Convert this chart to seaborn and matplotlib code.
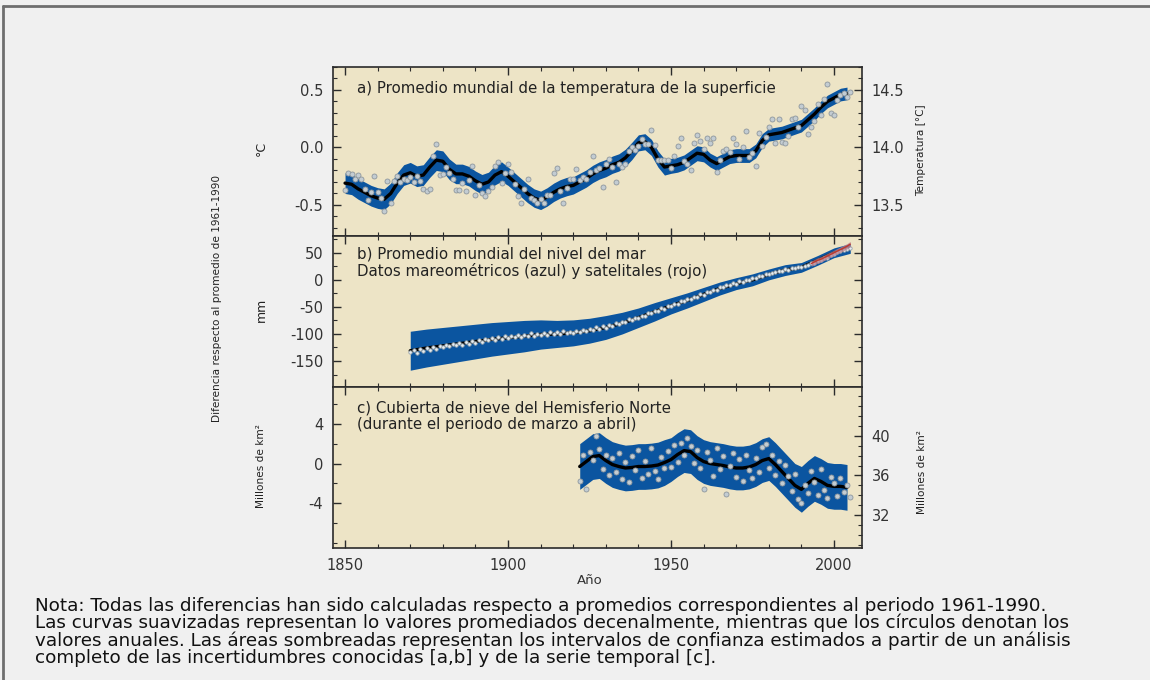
import numpy as np
import pandas as pd
import matplotlib
matplotlib.use("Agg")
import matplotlib.pyplot as plt
from matplotlib.ticker import MultipleLocator
from matplotlib.lines import Line2D
import seaborn as sns

# a) global mean surface temperature anomaly (deg C), annual values 1850-2005
temp_start = 1850
temp_annual = [
    -0.37, -0.22, -0.23, -0.27, -0.24, -0.27, -0.36, -0.46, -0.39, -0.25,
    -0.39, -0.44, -0.55, -0.29, -0.48, -0.29, -0.25, -0.30, -0.27, -0.28,
    -0.26, -0.30, -0.25, -0.29, -0.36, -0.38, -0.36, -0.07, 0.03, -0.24,
    -0.23, -0.17, -0.22, -0.27, -0.37, -0.37, -0.31, -0.38, -0.28, -0.16,
    -0.41, -0.33, -0.40, -0.42, -0.38, -0.34, -0.16, -0.13, -0.31, -0.22,
    -0.14, -0.21, -0.32, -0.42, -0.48, -0.36, -0.27, -0.44, -0.46, -0.48,
    -0.45, -0.48, -0.41, -0.41, -0.22, -0.18, -0.38, -0.48, -0.35, -0.27,
    -0.27, -0.19, -0.28, -0.26, -0.27, -0.21, -0.07, -0.20, -0.18, -0.34,
    -0.14, -0.10, -0.17, -0.30, -0.14, -0.17, -0.14, -0.03, 0.00, -0.02,
    0.01, 0.07, 0.03, 0.03, 0.15, 0.02, -0.11, -0.11, -0.11, -0.11,
    -0.18, -0.07, 0.01, 0.08, -0.12, -0.14, -0.20, 0.04, 0.11, 0.06,
    -0.01, 0.08, 0.04, 0.08, -0.21, -0.11, -0.03, -0.01, -0.04, 0.08,
    0.03, -0.10, 0.00, 0.14, -0.08, -0.05, -0.16, 0.13, 0.01, 0.09,
    0.18, 0.25, 0.04, 0.25, 0.05, 0.04, 0.10, 0.25, 0.26, 0.18,
    0.36, 0.33, 0.12, 0.18, 0.23, 0.38, 0.28, 0.42, 0.55, 0.30,
    0.28, 0.41, 0.46, 0.47, 0.44, 0.48,
]
# decadal smoothed curve, every 2 years 1850-2004
temp_smooth = [
    -0.31, -0.32, -0.36, -0.39, -0.42, -0.44, -0.45, -0.40, -0.31, -0.24,
    -0.22, -0.25, -0.24, -0.17, -0.11, -0.12, -0.19, -0.23, -0.23, -0.25,
    -0.29, -0.32, -0.30, -0.24, -0.21, -0.25, -0.30, -0.35, -0.40, -0.44,
    -0.46, -0.43, -0.39, -0.36, -0.34, -0.33, -0.30, -0.27, -0.23, -0.20,
    -0.18, -0.15, -0.13, -0.09, -0.03, 0.04, 0.05, 0.00, -0.10, -0.17,
    -0.16, -0.15, -0.13, -0.09, -0.05, -0.06, -0.11, -0.14, -0.11, -0.08,
    -0.07, -0.07, -0.07, -0.03, 0.06, 0.11, 0.12, 0.13, 0.15, 0.17,
    0.19, 0.24, 0.29, 0.35, 0.40, 0.43, 0.46, 0.47,
]
temp_hw = [
    0.09, 0.09, 0.09, 0.09, 0.09, 0.09, 0.09, 0.09, 0.09, 0.09,
    0.09, 0.09, 0.09, 0.09, 0.09, 0.09, 0.09, 0.085, 0.085, 0.085,
    0.085, 0.085, 0.085, 0.085, 0.085, 0.08, 0.08, 0.08, 0.08, 0.08,
    0.08, 0.08, 0.08, 0.08, 0.08, 0.075, 0.075, 0.075, 0.075, 0.075,
    0.075, 0.075, 0.075, 0.075, 0.075, 0.07, 0.07, 0.07, 0.07, 0.07,
    0.065, 0.065, 0.065, 0.065, 0.065, 0.065, 0.06, 0.06, 0.06, 0.06,
    0.06, 0.06, 0.06, 0.06, 0.06, 0.055, 0.055, 0.055, 0.055, 0.055,
    0.055, 0.055, 0.055, 0.055, 0.055, 0.055, 0.055, 0.055,
]

# b) global mean sea level (mm), tide gauge annual values 1870-2005
sea_start = 1870
sea_annual = [
    -133, -130, -135, -128, -131, -126, -129, -124, -127, -122,
    -124, -120, -123, -118, -121, -117, -120, -115, -118, -113,
    -116, -112, -114, -109, -112, -108, -111, -106, -109, -104,
    -108, -104, -106, -101, -105, -102, -104, -99, -103, -100,
    -102, -98, -101, -97, -100, -96, -100, -95, -99, -96,
    -99, -94, -97, -92, -95, -90, -93, -88, -90, -86,
    -89, -84, -86, -80, -82, -77, -78, -73, -74, -70,
    -71, -66, -67, -61, -62, -57, -57, -52, -53, -48,
    -49, -44, -45, -40, -40, -36, -36, -31, -31, -27,
    -28, -23, -23, -18, -18, -14, -14, -9, -10, -6,
    -7, -3, -4, 0, 0, 3, 3, 7, 7, 11,
    10, 13, 14, 17, 17, 20, 19, 22, 21, 23,
    23, 26, 27, 31, 32, 35, 37, 40, 41, 45,
    48, 51, 53, 56, 57, 59,
]
# smoothed curve and band half width, every 5 years 1870-2005
sea_smooth = [
    -131, -126, -122, -118, -114, -110, -107, -104, -101, -100,
    -98, -94, -88, -80, -70, -59, -48, -38, -27, -16,
    -7, 0, 10, 18, 23, 36, 50, 58,
]
sea_hw = [
    36, 35, 34, 33, 32, 31, 30, 29, 27, 25,
    24, 23, 22, 20, 18, 17, 15, 14, 13, 12,
    11, 11, 10, 10, 9, 9, 9, 9,
]
# satellite altimetry (red), 1993-2005
sat_start = 1993
sat_annual = [30, 33, 36, 38, 41, 44, 47, 50, 53, 56, 59, 62, 66]

# c) Northern Hemisphere snow cover, March-April (million km2), 1922-2005
snow_start = 1922
snow_annual = [
    -1.8, 0.9, -2.6, 1.2, 0.4, 2.8, 1.5, -0.6, 0.9, -1.2,
    0.6, -0.9, 1.1, -1.6, 0.2, -1.9, 0.8, -0.7, 1.4, -1.5,
    0.3, -1.1, 1.6, -0.8, -1.6, 0.7, -0.4, 1.3, -0.3, 1.9,
    0.2, 2.1, 0.9, 2.6, 1.8, 0.1, 1.4, -0.5, -2.6, 1.2,
    0.4, -1.3, 1.6, -0.6, 0.8, -3.1, -0.2, 1.1, -1.4, 0.5,
    -1.8, 0.9, -0.7, -1.5, 0.6, -0.9, 1.7, 2.0, -0.4, 0.9,
    -1.2, 0.3, -2.0, -0.1, -1.3, -2.8, -1.1, -3.6, -4.0, -2.2,
    -3.0, -0.8, -1.9, -3.2, -0.6, -2.7, -3.5, -1.4, -2.0, -3.3,
    -1.5, -2.9, -2.2, -3.4,
]
# smoothed curve and band half width, every 2 years 1922-2004
snow_smooth = [
    -0.3, 0.2, 0.7, 0.8, 0.3, -0.1, -0.3, -0.45, -0.4, -0.3,
    -0.3, -0.25, -0.15, 0.1, 0.4, 0.9, 1.3, 1.2, 0.6, 0.2,
    0.0, -0.1, -0.2, -0.35, -0.45, -0.45, -0.35, -0.1, 0.3, 0.5,
    -0.1, -0.8, -1.5, -2.2, -2.6, -2.0, -1.5, -1.8, -2.2, -2.3,
    -2.3, -2.4,
]
snow_hw = [
    2.3, 2.3, 2.3, 2.3, 2.3, 2.3, 2.3, 2.3, 2.3, 2.3,
    2.3, 2.3, 2.3, 2.3, 2.2, 2.2, 2.2, 2.2, 2.2, 2.2,
    2.2, 2.2, 2.2, 2.2, 2.2, 2.2, 2.2, 2.2, 2.2, 2.2,
    2.2, 2.2, 2.2, 2.2, 2.3, 2.3, 2.3, 2.3, 2.3, 2.3,
    2.3, 2.3,
]

note_lines = [
    "Nota: Todas las diferencias han sido calculadas respecto a promedios correspondientes al periodo 1961-1990.",
    "Las curvas suavizadas representan lo valores promediados decenalmente, mientras que los círculos denotan los",
    "valores anuales. Las áreas sombreadas representan los intervalos de confianza estimados a partir de un análisis",
    "completo de las incertidumbres conocidas [a,b] y de la serie temporal [c].",
]

# ---------------------------------------------------------------------------
sns.set_theme(style="ticks")
plt.rcParams["font.family"] = ["DejaVu Sans"]
plt.rcParams["axes.unicode_minus"] = False

BG = "#f0f0f0"
PANEL = "#ede4c6"
BLUE = "#0b55a0"
TXT = "#333333"

fig = plt.figure(figsize=(11.5, 6.8), dpi=100, facecolor=BG)
# frame lines at top and left of the picture
fig.lines.append(Line2D([3 / 1150, 1], [1 - 6 / 680, 1 - 6 / 680],
                        transform=fig.transFigure, color="#6e6e6e", lw=2))
fig.lines.append(Line2D([3 / 1150, 3 / 1150], [0, 1 - 6 / 680],
                        transform=fig.transFigure, color="#6e6e6e", lw=2))


def fpos(top, bottom):
    return [333 / 1150, 1 - bottom / 680, 529 / 1150, (bottom - top) / 680]


ax_a = fig.add_axes(fpos(67, 236))
ax_b = fig.add_axes(fpos(236, 387))
ax_c = fig.add_axes(fpos(387, 548))


def draw_panel(ax, start, annual, s_start, s_step, smooth, hw, dot_face, dot_edge, dot_size):
    yrs = np.arange(start, start + len(annual))
    syrs = np.arange(s_start, s_start + s_step * len(smooth), s_step)
    sm = np.array(smooth)
    w = np.array(hw)
    ax.fill_between(syrs, sm - w, sm + w, color=BLUE, lw=0, zorder=2)
    sns.lineplot(x=syrs, y=sm, ax=ax, color="black", lw=2.4, zorder=3)
    df = pd.DataFrame({"year": yrs, "value": annual})
    sns.scatterplot(data=df, x="year", y="value", ax=ax, s=dot_size,
                    color=dot_face, edgecolor=dot_edge, linewidth=0.6, zorder=4)


draw_panel(ax_a, temp_start, temp_annual, 1850, 2, temp_smooth, temp_hw,
           "#c3ccd2", "#8e979d", 13)
draw_panel(ax_b, sea_start, sea_annual, 1870, 5, sea_smooth, sea_hw,
           "#e8eef2", "#9aa6ae", 6)
draw_panel(ax_c, snow_start, snow_annual, 1922, 2, snow_smooth, snow_hw,
           "#c3ccd2", "#8e979d", 13)

# satellite series in panel b
sat_yrs = np.arange(sat_start, sat_start + len(sat_annual))
sat = np.array(sat_annual)
ax_b.fill_between(sat_yrs, sat - 5, sat + 5, color="#b9808f", alpha=0.75, lw=0, zorder=5)
sns.lineplot(x=sat_yrs, y=sat, ax=ax_b, color="#c0392b", lw=1.0, zorder=6)

for ax in (ax_a, ax_b, ax_c):
    ax.set_facecolor(PANEL)
    ax.set_xlim(1846.3, 2008.6)
    ax.xaxis.set_major_locator(MultipleLocator(50))
    ax.xaxis.set_minor_locator(MultipleLocator(10))
    ax.set_xlabel("")
    ax.set_ylabel("")
    for sp in ax.spines.values():
        sp.set_visible(True)
        sp.set_color("#2b2b2b")
        sp.set_linewidth(1.2)
    ax.tick_params(which="both", direction="in", top=True, bottom=True,
                   colors="#2b2b2b", labelcolor=TXT, labelsize=10.5)
    ax.tick_params(which="major", length=6, width=1, pad=7)
    ax.tick_params(which="minor", length=3, width=0.8)

ax_a.tick_params(labelbottom=False)
ax_b.tick_params(labelbottom=False, right=True, which="both")

ax_a.set_ylim(-0.77, 0.70)
ax_a.set_yticks([-0.5, 0.0, 0.5])
ax_a.set_yticklabels(["-0.5", "0.0", "0.5"])
ax_a.yaxis.set_minor_locator(MultipleLocator(0.1))

ax_b.set_ylim(-198, 81)
ax_b.set_yticks([-150, -100, -50, 0, 50])
ax_b.yaxis.set_minor_locator(MultipleLocator(25))

ax_c.set_ylim(-8.5, 7.7)
ax_c.set_yticks([-4, 0, 4])
ax_c.yaxis.set_minor_locator(MultipleLocator(2))
ax_c.set_xticks([1850, 1900, 1950, 2000])

# right-hand scales
ra = ax_a.twinx()
ra.set_ylim(-0.77 + 14.0, 0.70 + 14.0)
ra.set_yticks([13.5, 14.0, 14.5])
ra.set_yticklabels(["13.5", "14.0", "14.5"])
ra.yaxis.set_minor_locator(MultipleLocator(0.1))

rc = ax_c.twinx()
rc.set_ylim(-8.5 + 37.2, 7.7 + 37.2)
rc.set_yticks([32, 36, 40])
rc.yaxis.set_minor_locator(MultipleLocator(1))

for r in (ra, rc):
    r.grid(False)
    for sp in r.spines.values():
        sp.set_visible(False)
    r.tick_params(which="both", direction="in", colors="#2b2b2b",
                  labelcolor=TXT, labelsize=10.5)
    r.tick_params(which="major", length=6, width=1, pad=7)
    r.tick_params(which="minor", length=3, width=0.8)


def ftext(x, y, s, **kw):
    fig.text(x / 1150, 1 - y / 680, s, **kw)


# panel titles
title_kw = dict(fontsize=10.8, color="#222222", va="center")
ftext(357, 88, "a) Promedio mundial de la temperatura de la superficie", **title_kw)
ftext(357, 254, "b) Promedio mundial del nivel del mar", **title_kw)
ftext(357, 271, "Datos mareométricos (azul) y satelitales (rojo)", **title_kw)
ftext(357, 408, "c) Cubierta de nieve del Hemisferio Norte", **title_kw)
ftext(357, 425, "(durante el periodo de marzo a abril)", **title_kw)

lab_kw = dict(rotation=90, fontsize=7.6, color="#222222", ha="center", va="center")
ftext(217, 298, "Diferencia respecto al promedio de 1961-1990", **lab_kw)
ftext(261, 466, "Millones de km²", **lab_kw)
ftext(921, 150, "Temperatura [°C]", **lab_kw)
ftext(922, 472, "Millones de km²", **lab_kw)
unit_kw = dict(rotation=90, fontsize=9, color="#222222", ha="center", va="center")
ftext(261, 148, "°C", **unit_kw)
ftext(261, 310, "mm", **unit_kw)
ftext(590, 581, "Año", fontsize=9.5, color="#333333", ha="center", va="center")

ftext(35, 597, "\n".join(note_lines), fontsize=13.2, linespacing=0.93,
      color="#111111", va="top", ha="left")

fig.savefig("out.png", dpi=100, facecolor=fig.get_facecolor())
